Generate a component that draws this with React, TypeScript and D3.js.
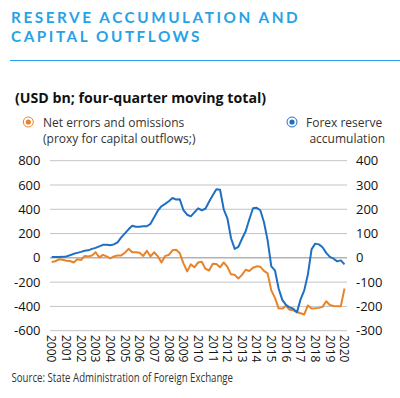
import React from "react";
import * as d3 from "d3";

const years = d3.range(2000, 2021).map(String);
const quarterCount = 81;

// Forex reserve accumulation (left axis, USD bn)
const forexReserve = [
  7, 7, 7, 8, 12, 21, 33, 41, 49, 58, 62, 74, 82, 95, 107, 107, 103, 111, 128, 169,
  202, 235, 264, 256, 256, 260, 260, 280, 334, 388, 425, 445, 466, 493, 480, 482, 392, 355, 342, 375,
  408, 392, 404, 462, 515, 565, 561, 400, 326, 161, 74, 91, 157, 219, 318, 408, 412, 392, 293, 144,
  -70, -103, -252, -346, -388, -408, -419, -449, -342, -268, -136, 70, 117, 111, 87, 41, 8, -7, -29, -21,
  -54,
];

// Net errors and omissions (right axis, USD bn)
const netErrors = [
  -17, -14, -6, -8, -12, -13, -19, -6, -9, 8, 6, 10, 23, 2, 12, 6, -2, 6, 10, 10,
  21, 37, 23, 23, 21, 8, 29, 6, 23, 6, -19, 8, 12, 31, 33, 19, -23, -56, -27, -39,
  -19, -16, -45, -52, -24, -25, -39, -19, -37, -68, -70, -85, -70, -49, -54, -41, -35, -37, -54, -64,
  -134, -165, -208, -209, -198, -214, -216, -223, -228, -233, -196, -209, -208, -206, -202, -179, -194, -198, -199, -199,
  -126,
];

const leftTicks = [800, 600, 400, 200, 0, -200, -400, -600];
const rightTicks = [400, 300, 200, 100, 0, -100, -200, -300];

const BLUE = "#1f6fc2";
const ORANGE = "#e8832a";
const TITLE = "#27a2e6";
const FONT = "'Open Sans', 'Noto Sans', sans-serif";

export default function App() {
  const W = 400;
  const H = 398;
  const top = 160.7;
  const bottom = 330.7;
  const x = d3.scaleLinear().domain([0, quarterCount - 1]).range([51.7, 344.5]);
  const yL = d3.scaleLinear().domain([-600, 800]).range([bottom, top]);
  const yR = d3.scaleLinear().domain([-300, 400]).range([bottom, top]);

  const blueLine = d3
    .line<number>()
    .x((_, i) => x(i))
    .y((d) => yL(d))(forexReserve) as string;
  const orangeLine = d3
    .line<number>()
    .x((_, i) => x(i))
    .y((d) => yR(d))(netErrors) as string;

  return (
    <svg
      width={W}
      height={H}
      style={{ position: "absolute", left: 0, top: 0, background: "#fff" }}
      fontFamily={FONT}
    >
      <g fontFamily="Lato, 'Open Sans', sans-serif">
        <text x={11} y={22.7} fill={TITLE} fontSize={15.3} fontWeight={700} letterSpacing={2.55}>
          RESERVE ACCUMULATION AND
        </text>
        <text x={11} y={41.7} fill={TITLE} fontSize={15.3} fontWeight={700} letterSpacing={2.55}>
          CAPITAL OUTFLOWS
        </text>
      </g>
      <line x1={10} x2={400} y1={60.5} y2={60.5} stroke={TITLE} strokeWidth={1} />

      <text x={15} y={103} fontSize={14.2} fontWeight={700} fill="#111">
        (USD bn; four-quarter moving total)
      </text>

      {/* legend */}
      <circle cx={28.3} cy={122} r={5} fill="#fff" stroke={ORANGE} strokeWidth={1} />
      <circle cx={28.3} cy={122} r={2.6} fill={ORANGE} />
      <text x={43} y={127} fontSize={12} fill="#333">Net errors and omissions</text>
      <text x={43} y={142.5} fontSize={12} fill="#333">(proxy for capital outflows;)</text>
      <circle cx={292} cy={122} r={5} fill="#fff" stroke={BLUE} strokeWidth={1} />
      <circle cx={292} cy={122} r={2.6} fill={BLUE} />
      <text x={306} y={127} fontSize={12} fill="#333">Forex reserve</text>
      <text x={385} y={142.5} fontSize={12} fill="#333" textAnchor="end">accumulation</text>

      {/* grid */}
      {leftTicks.map((t) => (
        <line
          key={"g" + t}
          x1={50}
          x2={347}
          y1={yL(t)}
          y2={yL(t)}
          stroke={t === 0 ? "#8c8c8c" : "#c4c4c4"}
          strokeWidth={1}
        />
      ))}
      {leftTicks.map((t) => (
        <text
          key={"l" + t}
          x={40.5}
          y={yL(t)}
          dy="0.35em"
          textAnchor="end"
          fontSize={13}
          fill="#111"
        >
          {t}
        </text>
      ))}
      {rightTicks.map((t) => (
        <text key={"r" + t} x={356} y={yR(t)} dy="0.35em" fontSize={13} fill="#111">
          {t}
        </text>
      ))}
      {years.map((yr, k) => (
        <text
          key={yr}
          transform={`translate(${x(k * 4)},${335}) rotate(90)`}
          dy="0.35em"
          fontSize={12}
          fill="#111"
        >
          {yr}
        </text>
      ))}

      <path d={orangeLine} fill="none" stroke={ORANGE} strokeWidth={2} strokeLinejoin="round" />
      <path d={blueLine} fill="none" stroke={BLUE} strokeWidth={2} strokeLinejoin="round" />

      <text
        x={11.5}
        y={381.7}
        fontSize={12.2}
        fill="#333"
        fontFamily="'Liberation Sans Narrow', 'Open Sans', sans-serif"
        textLength={221.5}
        lengthAdjust="spacingAndGlyphs"
      >
        Source: State Administration of Foreign Exchange
      </text>
    </svg>
  );
}
